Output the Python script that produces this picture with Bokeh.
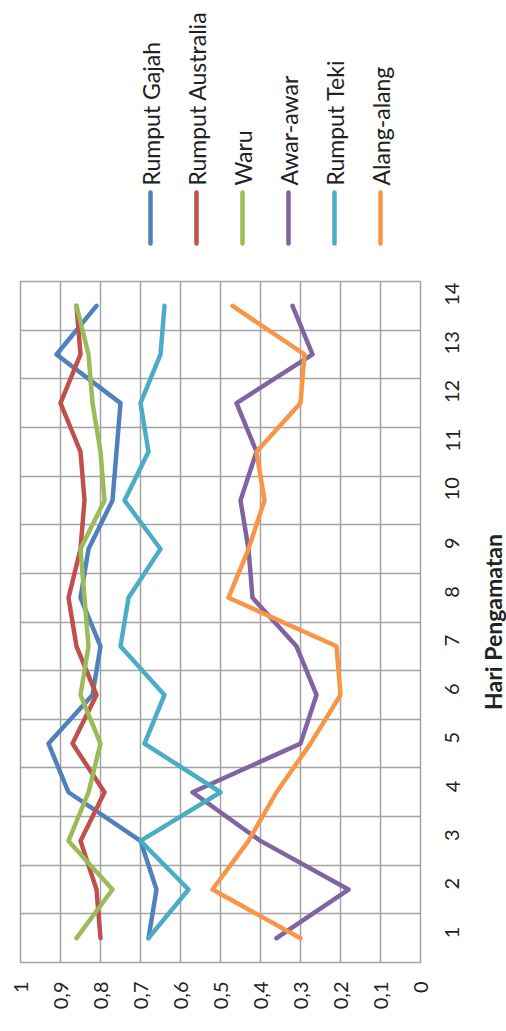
import math
from bokeh.plotting import figure
from bokeh.models import Range1d, FixedTicker, ColumnDataSource
from bokeh.layouts import column, row
from bokeh.embed import file_html
from bokeh.resources import INLINE
from bokeh.core.properties import value

# ---------------- data ----------------
days = list(range(1, 15))
day_labels = [str(d) for d in days]

series_names = ["Rumput Gajah", "Rumput Australia", "Waru", "Awar-awar", "Rumput Teki", "Alang-alang"]
series_colors = ["#4F81BD", "#C0504D", "#9BBB59", "#8064A2", "#4BACC6", "#F79646"]

rumput_gajah = [0.68, 0.66, 0.70, 0.88, 0.93, 0.82, 0.80, 0.85, 0.83, 0.77, 0.76, 0.75, 0.91, 0.81]
rumput_australia = [0.80, 0.81, 0.85, 0.79, 0.87, 0.81, 0.86, 0.88, 0.85, 0.84, 0.85, 0.90, 0.85, 0.86]
waru = [0.86, 0.77, 0.88, 0.83, 0.80, 0.85, 0.83, 0.84, 0.85, 0.79, 0.80, 0.82, 0.83, 0.86]
awar_awar = [0.36, 0.18, 0.40, 0.57, 0.30, 0.26, 0.31, 0.42, 0.43, 0.45, 0.41, 0.46, 0.27, 0.32]
rumput_teki = [0.68, 0.58, 0.70, 0.50, 0.69, 0.64, 0.75, 0.73, 0.65, 0.74, 0.68, 0.70, 0.65, 0.64]
alang_alang = [0.30, 0.52, 0.43, 0.36, 0.275, 0.20, 0.21, 0.48, 0.43, 0.39, 0.41, 0.30, 0.29, 0.47]

series_values = [rumput_gajah, rumput_australia, waru, awar_awar, rumput_teki, alang_alang]

value_ticks = [0, 0.1, 0.2, 0.3, 0.4, 0.5, 0.6, 0.7, 0.8, 0.9, 1]
value_tick_labels = ["0", "0,1", "0,2", "0,3", "0,4", "0,5", "0,6", "0,7", "0,8", "0,9", "1"]

axis_title = "Hari Pengamatan"

# ---------------- style / layout ----------------
FONT = "Lato"
TEXT_COLOR = "#222222"
GRID_COLOR = "#a3a3a3"
LINE_W = 4.5

PAGE_W = 506
LEG_H = 268
MAIN_H = 1031 - LEG_H
FRAME_L, FRAME_R = 20, 420
MAIN_W = 478               # chart figure width (frame + day labels)
TITLE_W = PAGE_W - MAIN_W  # strip holding the rotated axis title
BORDER_TOP = 281 - LEG_H
BORDER_BOTTOM = 1031 - 962

# ---------------- legend figure (rotated legend) ----------------
leg = figure(width=PAGE_W, height=LEG_H, x_range=Range1d(FRAME_L, FRAME_R), y_range=Range1d(0, LEG_H),
             output_backend="svg", toolbar_location=None, min_border=0,
             min_border_left=FRAME_L, min_border_right=PAGE_W - FRAME_R)
leg.axis.visible = False
leg.grid.visible = False
leg.outline_line_color = None

leg_x0, leg_dx = 150, 46
leg_x = [leg_x0 + i * leg_dx for i in range(len(series_names))]
leg_src = ColumnDataSource(dict(
    x=leg_x,
    y0=[LEG_H - 243] * len(leg_x),
    y1=[LEG_H - 192] * len(leg_x),
    ty=[LEG_H - 185] * len(leg_x),
    name=series_names,
    color=series_colors,
))
leg.segment(x0="x", y0="y0", x1="x", y1="y1", source=leg_src, line_color="color",
            line_width=LINE_W, line_cap="round")
leg.text(x="x", y="ty", text="name", source=leg_src, angle=math.pi / 2,
         text_align="left", text_baseline="middle", text_font=value(FONT),
         text_font_size="23px", text_color=TEXT_COLOR)

# ---------------- main chart ----------------
y_rng = Range1d(days[0] - 0.5, days[-1] + 0.5)
p = figure(width=MAIN_W, height=MAIN_H, x_range=Range1d(1, 0), y_range=y_rng,
           output_backend="svg", toolbar_location=None, y_axis_location="right",
           min_border_left=FRAME_L, min_border_right=MAIN_W - FRAME_R,
           min_border_top=BORDER_TOP, min_border_bottom=BORDER_BOTTOM)

p.background_fill_color = "white"
p.outline_line_color = GRID_COLOR
p.outline_line_width = 1.5

# value axis (bottom)
xa = p.xaxis[0]
xa.ticker = FixedTicker(ticks=value_ticks)
xa.major_label_overrides = {t: lab for t, lab in zip(value_ticks, value_tick_labels)}
xa.major_label_orientation = math.pi / 2
xa.major_label_standoff = 19
xa.major_tick_out = 0
xa.major_tick_in = 0
xa.minor_tick_out = 0
xa.minor_tick_in = 0
xa.axis_line_color = None
xa.major_label_text_font = FONT
xa.major_label_text_font_size = "20px"
xa.major_label_text_color = TEXT_COLOR

# day axis (right)
ya = p.yaxis[0]
ya.ticker = FixedTicker(ticks=days)
ya.major_label_overrides = {d: lab for d, lab in zip(days, day_labels)}
ya.major_label_orientation = math.pi / 2
ya.major_label_standoff = 32
ya.major_tick_out = 0
ya.major_tick_in = 0
ya.minor_tick_out = 0
ya.minor_tick_in = 0
ya.axis_line_color = None
ya.major_label_text_font = FONT
ya.major_label_text_font_size = "20px"
ya.major_label_text_color = TEXT_COLOR

# grids
p.xgrid.ticker = FixedTicker(ticks=value_ticks)
p.xgrid.grid_line_color = GRID_COLOR
p.xgrid.grid_line_width = 1.5
p.ygrid.ticker = FixedTicker(ticks=[d - 0.5 for d in days] + [days[-1] + 0.5])
p.ygrid.grid_line_color = GRID_COLOR
p.ygrid.grid_line_width = 1.5

for name, vals, col in zip(series_names, series_values, series_colors):
    src = ColumnDataSource(dict(v=vals, d=days))
    p.line(x="v", y="d", source=src, line_color=col, line_width=LINE_W,
           line_join="round", line_cap="round")

# ---------------- axis title strip ----------------
tfig = figure(width=TITLE_W, height=MAIN_H, x_range=Range1d(0, TITLE_W), y_range=y_rng,
              output_backend="svg", toolbar_location=None, min_border=0,
              min_border_top=BORDER_TOP, min_border_bottom=BORDER_BOTTOM)
tfig.axis.visible = False
tfig.grid.visible = False
tfig.outline_line_color = None
tfig.text(x=[TITLE_W / 2], y=[(days[0] + days[-1]) / 2], text=[axis_title], angle=math.pi / 2,
          text_align="center", text_baseline="middle", text_font=value(FONT),
          text_font_size="23px", text_font_style="bold", text_color=TEXT_COLOR)

layout = column(leg, row(p, tfig, spacing=0), spacing=0)
open("out.html", "w").write(file_html(layout, INLINE))
